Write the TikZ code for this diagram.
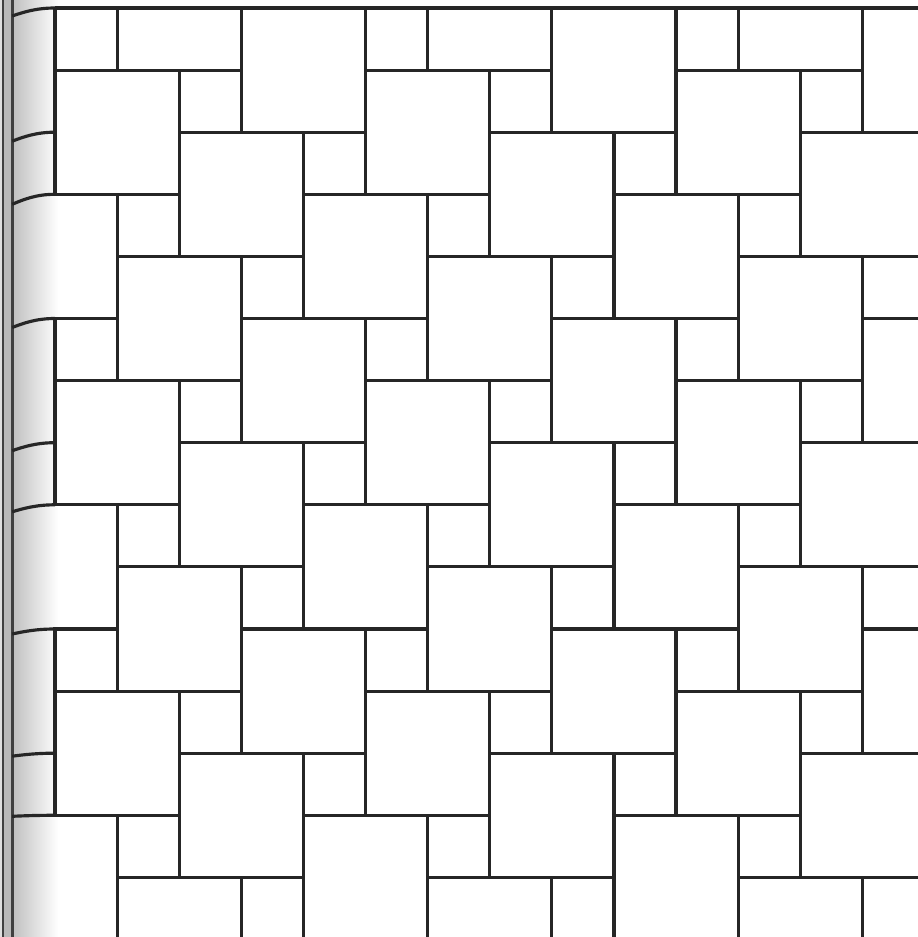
\documentclass[tikz,border=0pt]{standalone}
\usetikzlibrary{calc}

\begin{document}
\begin{tikzpicture}[x=0.621cm,y=0.621cm,
    tile/.style={draw=black!85,line width=0.9pt},
    gutter/.style={draw=black!75,line width=0.8pt}]

  \useasboundingbox (-0.886,0.129) rectangle (13.881,-14.96);

  % page gutter
  \fill[gray!25] (-0.886,0.129) rectangle (-0.837,-14.96);
  \fill[gray!55] (-0.837,0.129) rectangle (-0.69,-14.96);
  \shade[left color=gray!50,right color=white] (-0.69,0.129) rectangle (0.05,-14.96);
  \draw[gutter] (-0.837,0.129) -- (-0.837,-14.96);
  \draw[gutter] (-0.69,0.129) -- (-0.69,-14.96);

  % big and small squares
  \begin{scope}
    \clip (-0.03,0) rectangle (14,-15.1);
    \foreach \i in {-3,...,10}
      \foreach \j in {-5,...,8} {
        \pgfmathtruncatemacro\c{2*\i-\j}
        \pgfmathtruncatemacro\y{-(1+\i+2*\j)}
        \draw[tile] (\c,\y) rectangle ++(2,-2) (\c,\y) rectangle ++(1,1);
      }
  \end{scope}

  \draw[tile] (0,0) -- (14,0);
  \foreach \r/\d in {0/8,2/9,3/10,5/9,7/8,8/7,10/5,12/3,13/1}
    \draw[tile] (0,-\r) .. controls (-0.3,-\r) and (-0.5,{-\r-0.5*\d/62.1}) .. (-0.69,{-\r-\d/62.1});

\end{tikzpicture}
\end{document}
